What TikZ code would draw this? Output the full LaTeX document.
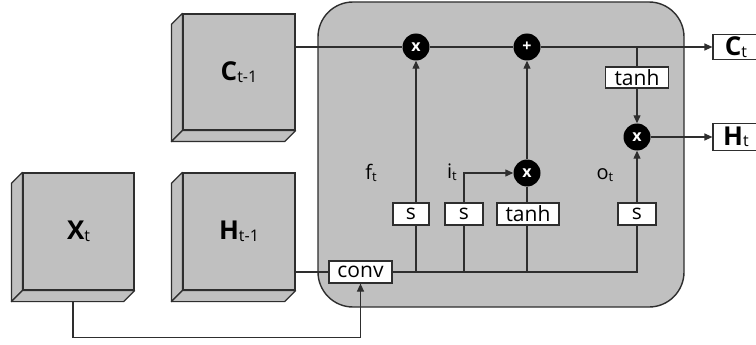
\documentclass[tikz,border=0pt]{standalone}
\usepackage{fontspec}
\setmainfont{Open Sans}
\usetikzlibrary{arrows.meta,calc}
\definecolor{fillg}{HTML}{C0C0C0}
\definecolor{linec}{HTML}{2E2E2E}
\newcommand{\bigsub}[2]{{\fontsize{26}{26}\selectfont\bfseries #1}\raisebox{-1.5pt}{\fontsize{16}{16}\selectfont #2}}
\newcommand{\gsub}[2]{{\fontsize{20}{20}\selectfont #1}\raisebox{-1.5pt}{\fontsize{13}{13}\selectfont #2}}
\begin{document}
\begin{tikzpicture}[x=1pt,y=-1pt,
  face/.style={draw=linec, fill=fillg, line width=1.2pt, inner sep=0pt, text=black},
  gate/.style={draw=linec, fill=white, line width=1.2pt, minimum height=22pt, inner sep=0pt, font=\fontsize{21}{21}\selectfont},
  op/.style={circle, fill=black, minimum size=27pt, inner sep=0pt, text=white, font=\fontsize{16}{16}\selectfont\bfseries},
  wire/.style={draw=linec, line width=1.2pt},
  arr/.style={wire, -{Triangle[length=8pt,width=7pt]}},
  lbl/.style={inner sep=0pt}]
\useasboundingbox (0,0) rectangle (756,345);
\fill[white] (0,0) rectangle (756,345);
% cell body
\draw[line width=1.4pt, draw=linec, fill=fillg, rounded corners=35pt] (318,2) rectangle (684,307);
% input cubes
\node[face, minimum width=112pt, minimum height=116pt] (C) at (239,72) {\bigsub{C}{t-1}};
\node[face, minimum width=112pt, minimum height=117pt] (H) at (239,231.5) {\bigsub{H}{t-1}};
\node[face, minimum width=111pt, minimum height=117pt] (X) at (78.5,231.5) {\bigsub{X}{t}};
\foreach \n in {C,H,X}{
  \draw[wire, fill=fillg, line join=round] (\n.north west) -- ++(-11,11) -- ($(\n.south west)+(-11,11)$) -- (\n.south west) -- cycle;
  \draw[wire, fill=fillg, line join=round] (\n.south west) -- ++(-11,11) -- ($(\n.south east)+(-11,11)$) -- (\n.south east) -- cycle;
}
% operators
\node[op] (m1) at (416,47) {x};
\node[op] (p1) at (527,47) {+};
\node[op] (m2) at (527,173) {x};
\node[op] (m3) at (637,137) {x};
% gates
\node[gate, minimum width=63pt, minimum height=21pt] (tC) at (637,77.5) {tanh};
\node[gate, minimum width=36pt] (s1) at (411,214) {s};
\node[gate, minimum width=38pt] (s2) at (464,214) {s};
\node[gate, minimum width=62pt] (t2) at (528,214) {tanh};
\node[gate, minimum width=38pt] (s3) at (637,214) {s};
\node[gate, minimum width=63pt] (conv) at (360.5,272) {conv};
% outputs
\node[gate, minimum width=46pt, minimum height=25pt] (Ct) at (736,47) {\bigsub{C}{t}};
\node[gate, minimum width=46pt, minimum height=27pt] (Ht) at (736,137) {\bigsub{H}{t}};
% labels
\node[lbl] (ft) at (371,173) {\gsub{f}{t}};
\node[lbl] (it) at (452,172) {\gsub{i}{t}};
\node[lbl] (ot) at (605,175) {\gsub{o}{t}};
% wires
\draw[wire] (C.east |- m1) -- (m1);
\draw[wire] (m1) -- (p1);
\draw[arr] (p1) -- (Ct);
\draw[wire] (tC |- m1) -- (tC);
\draw[arr] (tC) -- (m3);
\draw[arr] (m3) -- (Ht);
\draw[arr] (s3) -- (m3);
\draw[wire] (H.east |- conv) -- (conv);
\coordinate (xb) at ($(X.south)+(-5.5,11)$);
\draw[arr] (xb) -- ++(0,36) -| (conv);
\draw[wire] (conv) -- (conv -| s3) -- (s3);
\draw[wire] (m1 |- conv) -- (m1 |- s1.south);
\draw[arr] (m1 |- s1.north) -- (m1);
\draw[wire] (s2 |- conv) -- (s2);
\draw[arr] (s2) |- (m2);
\draw[wire] (m2 |- conv) -- (m2 |- t2.south);
\draw[wire] (m2 |- t2.north) -- (m2);
\draw[arr] (m2) -- (p1);
\end{tikzpicture}
\end{document}
